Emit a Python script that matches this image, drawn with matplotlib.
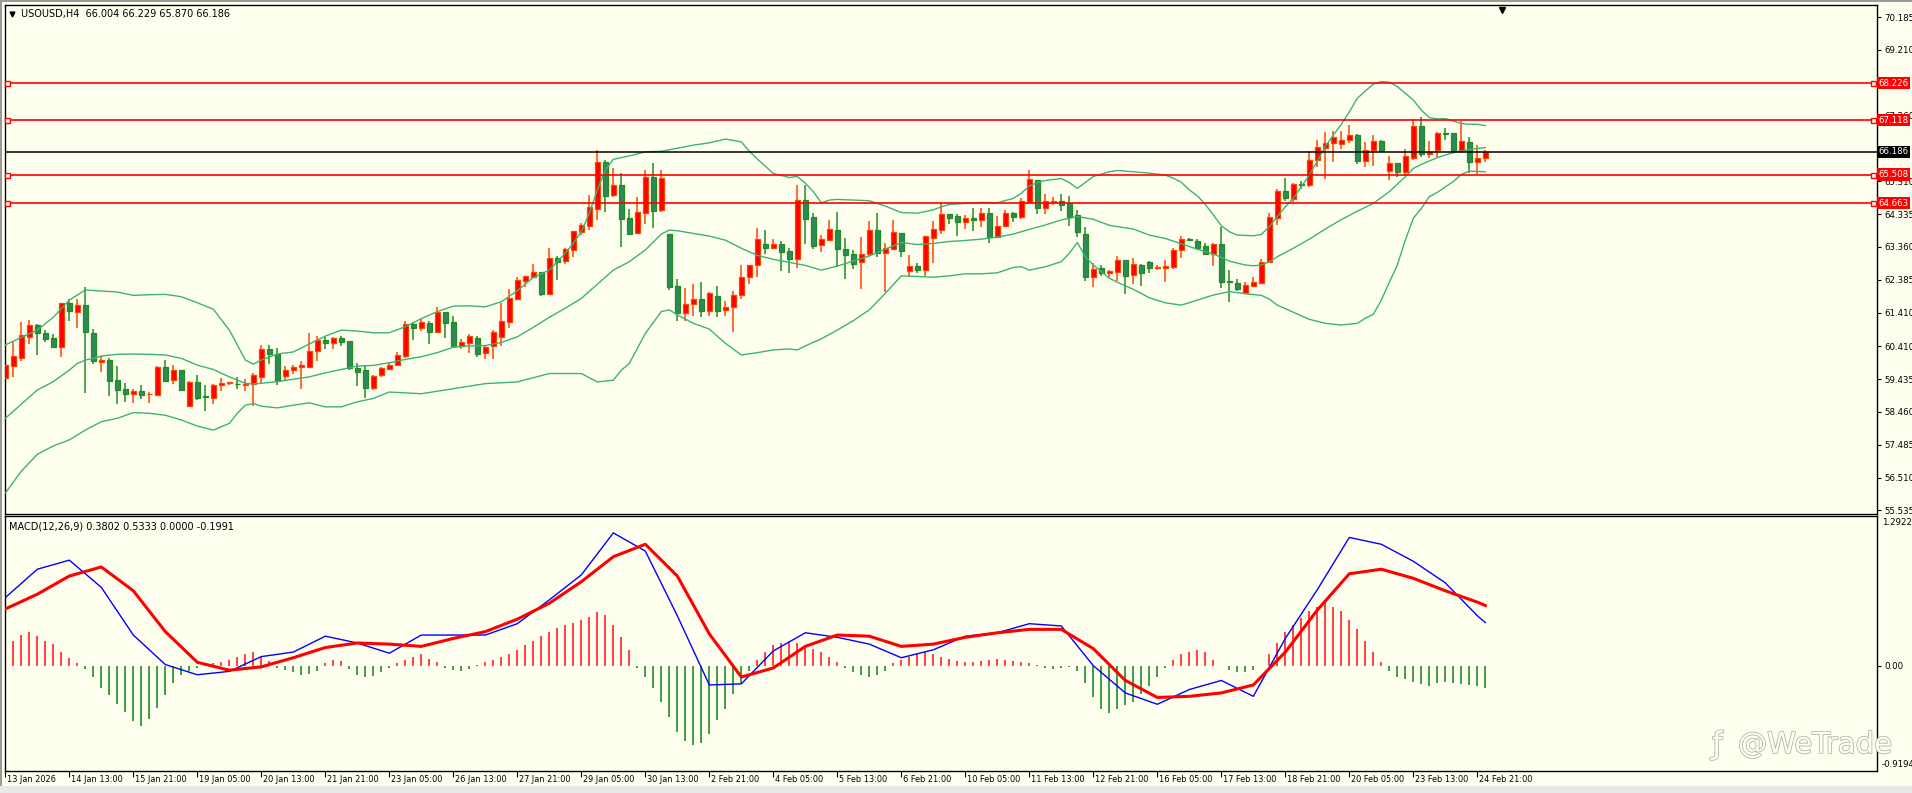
import matplotlib
matplotlib.use('Agg')
import matplotlib.pyplot as plt
import matplotlib.transforms as mtransforms
import matplotlib.patheffects as pe
from matplotlib.patches import Rectangle

# ============================================================
# DATA: USOUSD H4 candles
# ============================================================
opens = [59.47, 59.83, 60.07, 60.67, 61.03, 60.79, 60.64, 60.40, 61.68, 61.42,
         61.62, 60.79, 59.95, 59.99, 59.40, 59.13, 59.00, 59.07, 58.98, 58.97,
         59.79, 59.42, 59.69, 58.65, 59.35, 58.92, 58.88, 59.25, 59.31, 59.30,
         59.27, 59.29, 59.50, 60.33, 60.17, 59.52, 59.69, 59.78, 59.80, 60.26,
         60.61, 60.52, 60.65, 60.56, 59.77, 59.70, 59.18, 59.55, 59.74, 59.84,
         60.12, 61.07, 60.96, 61.10, 60.82, 61.42, 61.12, 60.43, 60.50, 60.65,
         60.20, 60.42, 60.69, 61.14, 61.81, 62.36, 62.48, 62.60, 61.96, 63.02,
         62.95, 63.28, 63.81, 63.99, 64.49, 65.87, 64.91, 65.20, 64.21, 63.77,
         64.38, 65.44, 64.46, 63.74, 62.20, 61.41, 61.65, 61.80, 61.47, 61.90,
         61.48, 61.57, 61.92, 62.46, 62.81, 63.46, 63.34, 63.45, 63.24, 62.99,
         64.75, 64.24, 63.41, 63.57, 63.85, 63.30, 63.14, 62.90, 63.14, 63.85,
         63.19, 63.31, 63.76, 62.63, 62.79, 62.68, 63.63, 63.87, 64.34, 64.28,
         64.11, 64.21, 64.17, 64.37, 63.66, 63.98, 64.37, 64.26, 64.69, 65.35,
         64.50, 64.69, 64.72, 64.65, 64.30, 63.74, 62.48, 62.74, 62.58, 62.62,
         62.97, 62.52, 62.82, 62.90, 62.72, 62.74, 62.76, 63.26, 63.60, 63.53,
         63.38, 63.16, 63.44, 62.34, 62.28, 62.00, 62.21, 62.29, 62.91, 64.23,
         65.01, 64.79, 65.22, 65.19, 65.93, 66.31, 66.45, 66.42, 66.52, 66.68,
         65.91, 66.23, 66.50, 65.61, 65.84, 65.59, 66.01, 66.95, 66.13, 66.25,
         66.74, 66.74, 66.21, 66.46, 65.89, 66.004]
highs = [59.87, 60.54, 61.13, 61.19, 61.06, 60.89, 60.77, 61.70, 61.80, 61.80,
         62.16, 60.91, 60.12, 60.06, 59.82, 59.32, 59.14, 59.26, 59.04, 59.82,
         60.00, 59.85, 59.69, 59.38, 59.55, 59.25, 59.29, 59.46, 59.34, 59.50,
         59.43, 59.63, 60.45, 60.45, 60.36, 59.82, 59.85, 59.97, 60.81, 60.71,
         60.67, 60.67, 60.71, 60.56, 59.90, 59.85, 59.55, 59.78, 59.90, 60.25,
         61.16, 61.13, 61.22, 61.17, 61.57, 61.42, 61.31, 60.63, 60.76, 60.70,
         60.43, 60.90, 61.68, 62.11, 62.48, 62.51, 62.85, 62.60, 63.33, 63.09,
         63.32, 63.83, 64.06, 64.90, 66.24, 65.94, 65.70, 65.55, 64.48, 64.84,
         65.63, 65.85, 65.63, 63.74, 62.41, 62.14, 62.27, 62.32, 62.03, 62.20,
         61.74, 62.05, 62.82, 62.81, 63.91, 63.86, 63.58, 63.52, 63.32, 65.20,
         65.20, 64.36, 63.70, 64.16, 64.40, 63.61, 63.26, 63.64, 64.13, 64.36,
         63.47, 64.16, 63.76, 63.11, 62.87, 63.68, 64.13, 64.68, 64.34, 64.34,
         64.31, 64.51, 64.50, 64.51, 64.28, 64.46, 64.41, 64.81, 65.64, 65.35,
         64.93, 64.85, 64.93, 64.87, 64.46, 63.94, 62.88, 62.83, 62.67, 63.09,
         62.97, 63.04, 62.86, 62.94, 62.81, 62.97, 63.32, 63.69, 63.62, 63.59,
         63.47, 63.47, 63.95, 62.67, 62.41, 62.32, 62.47, 63.00, 64.38, 65.08,
         65.40, 65.26, 65.32, 66.21, 66.53, 66.76, 66.80, 66.80, 66.98, 66.71,
         66.46, 66.68, 66.53, 66.06, 65.84, 66.27, 67.17, 67.22, 66.49, 66.78,
         66.90, 66.74, 67.11, 66.62, 66.40, 66.229]
lows = [59.45, 59.50, 59.98, 60.48, 60.16, 60.55, 60.37, 60.10, 61.17, 60.96,
        59.03, 59.87, 59.65, 58.94, 58.70, 58.76, 58.73, 58.85, 58.73, 58.95,
        59.36, 59.29, 59.12, 58.64, 58.81, 58.50, 58.69, 59.09, 59.26, 59.15,
        59.08, 58.65, 59.31, 59.88, 59.26, 59.41, 59.59, 59.15, 59.80, 59.97,
        60.34, 60.32, 60.43, 59.69, 59.23, 58.88, 59.11, 59.50, 59.70, 59.82,
        60.06, 60.60, 60.87, 60.48, 60.80, 60.65, 60.35, 60.32, 60.22, 60.10,
        60.04, 60.04, 60.42, 60.96, 61.81, 62.17, 62.47, 61.91, 61.93, 62.38,
        62.85, 63.06, 63.71, 63.85, 64.16, 64.40, 64.85, 63.37, 63.70, 63.74,
        64.05, 63.93, 64.40, 62.07, 61.17, 61.17, 61.32, 61.29, 61.32, 61.29,
        61.32, 60.84, 61.80, 62.25, 62.46, 63.15, 63.29, 62.65, 62.59, 62.72,
        63.46, 63.29, 63.22, 63.52, 62.77, 62.42, 62.69, 62.12, 63.08, 63.07,
        62.03, 63.26, 63.07, 62.46, 62.59, 62.51, 62.89, 63.75, 64.04, 63.69,
        63.89, 63.84, 63.96, 63.49, 63.62, 63.95, 64.11, 64.19, 64.63, 64.33,
        64.33, 64.59, 64.44, 63.99, 63.66, 62.36, 62.18, 62.51, 62.46, 62.35,
        61.97, 62.26, 62.21, 62.59, 62.66, 62.33, 62.69, 63.04, 63.55, 63.34,
        63.14, 62.79, 62.13, 61.73, 62.06, 61.97, 62.21, 62.27, 62.90, 64.02,
        64.72, 64.66, 65.08, 65.15, 65.74, 65.39, 65.89, 66.26, 66.43, 65.81,
        65.74, 65.77, 66.17, 65.34, 65.44, 65.45, 65.94, 66.03, 66.01, 66.01,
        66.53, 66.15, 66.16, 65.56, 65.51, 65.870]
closes = [59.85, 60.12, 60.73, 61.03, 60.79, 60.63, 60.40, 61.68, 61.45, 61.62,
          60.84, 59.96, 60.00, 59.39, 59.12, 59.00, 59.07, 58.97, 59.00, 59.79,
          59.39, 59.69, 59.12, 59.36, 58.88, 58.90, 59.26, 59.32, 59.34, 59.28,
          59.30, 59.55, 60.33, 60.18, 59.39, 59.69, 59.79, 59.85, 60.27, 60.59,
          60.52, 60.65, 60.55, 59.77, 59.65, 59.18, 59.52, 59.75, 59.86, 60.14,
          61.07, 60.96, 61.12, 60.84, 61.42, 61.11, 60.43, 60.53, 60.70, 60.19,
          60.39, 60.83, 61.15, 61.83, 62.37, 62.50, 62.60, 61.96, 63.02, 62.92,
          63.29, 63.83, 64.00, 64.53, 65.87, 64.88, 65.20, 64.20, 63.74, 64.40,
          65.44, 64.44, 65.40, 62.18, 61.41, 61.66, 61.80, 61.47, 61.98, 61.47,
          61.57, 61.93, 62.47, 62.81, 63.58, 63.34, 63.44, 63.22, 62.99, 64.75,
          64.20, 63.40, 63.58, 63.88, 63.31, 63.13, 62.86, 63.14, 63.85, 63.19,
          63.32, 63.79, 63.25, 62.79, 62.67, 63.68, 63.88, 64.34, 64.23, 64.11,
          64.21, 64.17, 64.37, 63.66, 63.98, 64.37, 64.24, 64.71, 65.37, 64.50,
          64.71, 64.73, 64.61, 64.25, 63.79, 62.48, 62.70, 62.58, 62.64, 62.97,
          62.51, 62.84, 62.59, 62.72, 62.77, 62.79, 63.27, 63.58, 63.55, 63.34,
          63.16, 63.45, 62.33, 62.31, 62.12, 62.23, 62.31, 62.92, 64.24, 65.01,
          64.81, 65.22, 65.19, 65.93, 66.32, 66.44, 66.62, 66.53, 66.67, 65.91,
          66.23, 66.50, 66.20, 65.84, 65.59, 66.06, 66.95, 66.13, 66.19, 66.73,
          66.70, 66.21, 66.50, 65.89, 65.99, 66.186]

# Bollinger bands (20,2) read at candle positions
upper_i = [0, 4, 6, 8, 10, 12, 14, 16, 18, 20, 22, 24, 26, 28, 29, 30, 31, 32, 34, 36, 38, 40, 42, 44, 46,
           48, 50, 52, 54, 56, 58, 60, 62, 64, 66, 68, 70, 71, 72, 73, 74, 75, 76, 78, 80, 82, 84, 86, 88, 90, 92,
           93, 94, 96, 98, 99, 100, 101, 102, 103, 104, 106, 108, 110, 112, 114, 116, 117, 118, 120, 122, 124, 126,
           127, 128, 129, 130, 132, 133, 134, 135, 136, 138,
           139, 141, 143, 145, 146, 147, 148, 149, 150, 151, 152, 153, 154, 156, 157, 158, 159, 160, 161, 162, 163,
           164, 165, 166, 167, 168, 169, 170, 171, 172, 173, 174, 175, 176, 177, 178, 179, 180, 181, 182, 183, 184, 185]
upper_v = [60.45, 60.89, 61.27, 61.78, 62.08, 62.05, 62.02, 61.92, 61.94, 61.95, 61.88, 61.70, 61.51, 60.89, 60.45,
           60.00, 59.88, 60.00, 60.18, 60.24, 60.48, 60.71, 60.89, 60.86, 60.81,
           60.81, 60.99, 61.23, 61.44, 61.60, 61.61, 61.58, 61.73, 62.06, 62.45, 62.67, 63.17, 63.47, 63.81, 64.36,
           65.05, 65.64, 65.96, 66.06, 66.18, 66.20, 66.29, 66.38, 66.45, 66.56, 66.48,
           66.20, 65.97, 65.54, 65.42, 65.45, 65.25, 65.00, 64.67, 64.75, 64.77, 64.75, 64.73, 64.57, 64.38, 64.36,
           64.46, 64.55, 64.62, 64.65, 64.68, 64.67, 64.80, 64.95, 65.17, 65.27, 65.33, 65.39, 65.27, 65.10, 65.27,
           65.45, 65.59,
           65.63, 65.59, 65.55, 65.49, 65.40, 65.28, 65.05, 64.88, 64.62, 64.31, 63.99, 63.81, 63.71, 63.69, 63.73,
           63.96, 64.26, 64.55, 64.80, 65.15, 65.49, 65.91, 66.34, 66.68, 67.00, 67.37, 67.77, 67.99, 68.19, 68.27,
           68.25, 68.12, 67.92, 67.72, 67.42, 67.20, 67.16, 67.17, 67.10, 67.02, 67.00, 67.00, 66.96]
mid_i = [0, 2, 4, 6, 8, 9, 10, 11, 12, 14, 16, 18, 20, 22, 24, 26, 28, 30, 31, 32, 34, 36, 38, 40, 42, 44, 46,
         47, 48, 50, 52, 54, 56, 58, 60, 62, 64, 66, 68, 70, 72, 74, 76, 78, 80, 82, 83, 84, 86, 88, 90, 92,
         94, 96, 98, 100, 102, 104, 106, 108, 110, 112, 114, 116, 118, 120, 122, 124, 126, 128, 130, 132, 134, 136, 138,
         139, 141, 143, 145, 147, 149, 151, 153, 155, 156, 157, 158, 159, 161, 163, 165, 167, 169, 171, 173, 175,
         176, 177, 179, 181, 183, 185]
mid_v = [58.27, 58.69, 59.11, 59.36, 59.70, 59.90, 60.00, 60.05, 60.12, 60.17, 60.18, 60.17, 60.15, 60.05, 59.85,
         59.72, 59.50, 59.31, 59.29, 59.31, 59.36, 59.43, 59.50, 59.62, 59.72, 59.82, 59.84,
         59.88, 59.92, 60.02, 60.10, 60.22, 60.38, 60.42, 60.43, 60.52, 60.69, 60.97, 61.27, 61.54, 61.83, 62.25,
         62.67, 62.92, 63.27, 63.74, 63.86, 63.84, 63.76, 63.68, 63.56, 63.32,
         63.11, 62.99, 62.90, 62.81, 62.67, 62.79, 62.94, 63.09, 63.29, 63.49, 63.43, 63.46, 63.52, 63.55, 63.59,
         63.65, 63.74, 63.88, 64.01, 64.16, 64.26, 64.18, 64.00,
         63.96, 63.89, 63.71, 63.61, 63.45, 63.29, 63.15, 62.94, 62.82, 62.80, 62.82, 62.92, 63.07, 63.32, 63.59,
         63.89, 64.17, 64.42, 64.65, 65.00, 65.44, 65.69, 65.81, 66.01, 66.16, 66.25, 66.31]
lower_i = [0, 2, 4, 6, 8, 10, 12, 14, 16, 18, 20, 22, 24, 26, 28, 29, 30, 31, 32, 34, 36, 38, 40, 42, 44, 46,
           48, 52, 56, 60, 64, 68, 72, 74, 76, 77, 78, 80, 82, 83, 84, 86, 88, 90, 92,
           94, 96, 98, 99, 100, 102, 104, 106, 108, 110, 112, 114, 116, 118, 120, 122, 124, 126, 127, 128, 130, 132,
           133, 134, 135, 136, 138,
           139, 141, 143, 145, 147, 149, 151, 153, 155, 157, 158, 159, 161, 163, 165, 167, 169, 170, 171, 172, 173,
           174, 175, 176, 177, 178, 179, 181, 182, 183, 185]
lower_v = [56.05, 56.70, 57.20, 57.45, 57.63, 57.92, 58.17, 58.27, 58.44, 58.42, 58.36, 58.22, 58.04, 57.92, 58.12,
           58.42, 58.66, 58.71, 58.63, 58.58, 58.66, 58.73, 58.61, 58.61, 58.76, 58.86,
           59.05, 59.00, 59.15, 59.30, 59.35, 59.60, 59.60, 59.35, 59.40, 59.70, 59.90, 60.79, 61.44, 61.49, 61.34,
           61.09, 60.92, 60.50, 60.15,
           60.22, 60.30, 60.33, 60.30, 60.42, 60.63, 60.89, 61.17, 61.49, 61.98, 62.50, 62.48, 62.46, 62.50, 62.56,
           62.56, 62.59, 62.75, 62.77, 62.67, 62.77, 62.92, 63.17, 63.49, 63.07, 62.82, 62.43,
           62.31, 62.10, 61.85, 61.70, 61.63, 61.78, 61.93, 62.03, 61.97, 61.92, 61.81, 61.63, 61.42, 61.21, 61.09,
           61.04, 61.09, 61.24, 61.36, 61.78, 62.31, 62.82, 63.56, 64.21, 64.50, 64.85, 64.98, 65.30, 65.51, 65.61, 65.59]

# horizontal levels
red_levels = [68.226, 67.118, 65.508, 64.663]
bid_price = 66.186

# MACD(12,26,9): main line (blue), signal (red), histogram per candle
macd_i = list(range(0, 185, 4)) + [185]
macd_main = [0.60, 0.85, 0.93, 0.69, 0.27, 0.01, -0.08, -0.05, 0.08, 0.12, 0.26, 0.20, 0.11, 0.27, 0.27, 0.27,
             0.37, 0.58, 0.80, 1.17, 1.01, 0.44, -0.17, -0.16, 0.13, 0.29, 0.25, 0.19, 0.07, 0.14, 0.26, 0.29,
             0.37, 0.35, 0.00, -0.24, -0.34, -0.21, -0.13, -0.27, 0.24, 0.67, 1.13, 1.07, 0.92, 0.73, 0.44, 0.38]
macd_signal = [0.50, 0.63, 0.79, 0.87, 0.66, 0.30, 0.03, -0.04, -0.01, 0.07, 0.16, 0.20, 0.19, 0.17, 0.24, 0.30,
               0.41, 0.55, 0.74, 0.96, 1.07, 0.79, 0.28, -0.10, -0.02, 0.17, 0.27, 0.26, 0.17, 0.19, 0.25, 0.29,
               0.32, 0.32, 0.15, -0.13, -0.28, -0.27, -0.24, -0.17, 0.12, 0.49, 0.81, 0.85, 0.77, 0.66, 0.56, 0.53]
macd_hist = [0.17, 0.22, 0.27, 0.30, 0.26, 0.22, 0.19, 0.12, 0.07, 0.02,
             -0.03, -0.10, -0.20, -0.26, -0.34, -0.41, -0.49, -0.53, -0.47, -0.37, -0.26, -0.15, -0.08, -0.05, -0.02,
             0.01, 0.02, 0.03, 0.05, 0.08, 0.10, 0.12, 0.08, 0.04, -0.02, -0.04, -0.06, -0.08, -0.07, -0.05,
             0.02, 0.05, 0.04, -0.03, -0.08, -0.10, -0.09, -0.06, -0.02, 0.02, 0.05, 0.08, 0.10, 0.06, 0.03, -0.02,
             -0.04, -0.05, -0.03, 0.01, 0.03, 0.05, 0.08,
             0.10, 0.14, 0.18, 0.22, 0.26, 0.30, 0.33, 0.36, 0.38, 0.40, 0.43, 0.47, 0.45, 0.36, 0.25, 0.14,
             -0.02, -0.10, -0.20, -0.32, -0.45, -0.58, -0.66, -0.70, -0.68, -0.60, -0.48, -0.38, -0.25, -0.15,
             -0.05, 0.05, 0.12, 0.18, 0.20, 0.22, 0.20, 0.18, 0.15, 0.12, 0.08, 0.03, -0.02, -0.06, -0.08, -0.10,
             -0.08, -0.05,
             0.02, 0.05, 0.08, 0.10, 0.12, 0.10, 0.08, 0.06, 0.04, 0.03, 0.03, 0.04, 0.05, 0.06, 0.05, 0.04, 0.03,
             0.02, 0.01, -0.02, -0.03, -0.02, -0.01,
             -0.05, -0.15, -0.28, -0.38, -0.42, -0.38, -0.35, -0.32, -0.25, -0.18, -0.10, -0.02, 0.05, 0.10, 0.12,
             0.14, 0.12,
             0.05, 0.00, -0.04, -0.06, -0.06, -0.04, 0.00, 0.10, 0.20, 0.30,
             0.36, 0.42, 0.48, 0.52, 0.55, 0.52, 0.48, 0.40, 0.32, 0.22, 0.12, 0.03, -0.05, -0.10, -0.12,
             -0.14, -0.16, -0.18, -0.15, -0.14, -0.15, -0.16, -0.17, -0.18, -0.20]

date_labels = ['13 Jan 2026', '14 Jan 13:00', '15 Jan 21:00', '19 Jan 05:00', '20 Jan 13:00', '21 Jan 21:00',
               '23 Jan 05:00', '26 Jan 13:00', '27 Jan 21:00', '29 Jan 05:00', '30 Jan 13:00', '2 Feb 21:00',
               '4 Feb 05:00', '5 Feb 13:00', '6 Feb 21:00', '10 Feb 05:00', '11 Feb 13:00', '12 Feb 21:00',
               '16 Feb 05:00', '17 Feb 13:00', '18 Feb 21:00', '20 Feb 05:00', '23 Feb 13:00', '24 Feb 21:00']
price_ticks = [70.185, 69.210, 67.260, 65.310, 64.335, 63.360, 62.385, 61.410, 60.410, 59.435,
               58.460, 57.485, 56.510, 55.535]

# ============================================================
# STYLE
# ============================================================
BG = '#FFFFF0'
UP_FILL, UP_EDGE = '#FF0000', '#FF4500'
DN_FILL, DN_EDGE = '#2E8B57', '#228B22'
BAND = '#3CB371'
FS = 6.2
plt.rcParams['font.family'] = ['DejaVu Sans']

W, H = 1912, 793
fig = plt.figure(figsize=(W / 100, H / 100), dpi=100)
fig.patch.set_facecolor(BG)


def box(x0, y0, x1, y1):
    # pixel box (top-left origin) -> figure fraction rect
    return [x0 / W, 1 - y1 / H, (x1 - x0) / W, (y1 - y0) / H]


ax = fig.add_axes(box(5, 5, 1877, 514))
ax2 = fig.add_axes(box(5, 516, 1877, 771))
for a in (ax, ax2):
    a.set_facecolor(BG)
    for s in a.spines.values():
        s.set_color('black')
        s.set_linewidth(1)

# candle x = index, 8px per candle
XMIN, XMAX = -0.04, 233.96

# ============================================================
# MAIN PANEL: candles + bands + levels
# ============================================================
n = len(closes)
for i in range(n):
    up = closes[i] >= opens[i]
    fill, edge = (UP_FILL, UP_EDGE) if up else (DN_FILL, DN_EDGE)
    ax.vlines(i, lows[i], highs[i], color=edge, lw=1.1, zorder=2)
    lo, hi = min(opens[i], closes[i]), max(opens[i], closes[i])
    ax.bar(i, max(hi - lo, 0.015), bottom=lo, width=0.62, color=fill, edgecolor=edge,
           linewidth=0.9, zorder=3)

ax.plot(upper_i, upper_v, color=BAND, lw=1, zorder=4)
ax.plot(mid_i, mid_v, color=BAND, lw=1, zorder=4)
ax.plot(lower_i, lower_v, color=BAND, lw=1, zorder=4)

for lv in red_levels:
    ax.axhline(lv, color='#FF0000', lw=1.2, zorder=5)
    ax.plot([0.25, 233.5], [lv, lv], ls='none', marker='s', ms=3.6, mfc=BG, mec='#FF0000',
            mew=1, zorder=6, clip_on=False)
ax.axhline(bid_price, color='black', lw=1.1, zorder=5)

ax.set_xlim(XMIN, XMAX)
ax.set_ylim(55.429, 70.542)
ax.set_xticks([])
ax.yaxis.tick_right()
ax.set_yticks(price_ticks)
ax.set_yticklabels([f'{t:.3f}' for t in price_ticks])
ax.tick_params(axis='y', length=3, width=0.8, pad=2, labelsize=FS, colors='black')

trans = mtransforms.blended_transform_factory(ax.transAxes, ax.transData)
for lv in red_levels:
    ax.text(1.0008, lv, f'{lv:.3f}', transform=trans, ha='left', va='center', fontsize=FS, color='white',
            bbox=dict(facecolor='#FF0000', edgecolor='none', pad=1.2), zorder=10, clip_on=False)
ax.text(1.0008, bid_price, f'{bid_price:.3f}', transform=trans, ha='left', va='center', fontsize=FS,
        color='white', bbox=dict(facecolor='black', edgecolor='none', pad=1.2), zorder=10, clip_on=False)

# header + markers
ax.plot([0.0035], [0.983], marker='v', ms=3.5, color='black', transform=ax.transAxes, clip_on=False)
ax.text(0.0085, 0.983, f'USOUSD,H4  {opens[-1]:.3f} {highs[-1]:.3f} {lows[-1]:.3f} {closes[-1]:.3f}',
        transform=ax.transAxes, ha='left', va='center', fontsize=7, color='black')
ax.plot([1502 / 8 - 0.66], [70.39], marker='v', ms=5, color='black', clip_on=False, zorder=8)

# ============================================================
# MACD PANEL
# ============================================================
hist_x = list(range(len(macd_hist)))
hist_c = ['#FF2020' if v > 0 else '#228B22' for v in macd_hist]
ax2.vlines(hist_x, 0, macd_hist, colors=hist_c, lw=1.2, zorder=2)
ax2.plot(macd_i, macd_main, color='#0000FF', lw=1, zorder=3)
ax2.plot(macd_i, macd_signal, color='#FF0000', lw=2.2, zorder=4)

ax2.set_xlim(XMIN, XMAX)
ax2.set_ylim(-0.928, 1.319)
ax2.yaxis.tick_right()
ax2.set_yticks([0])
ax2.set_yticklabels(['0.00'])
ax2.tick_params(axis='y', length=3, width=0.8, pad=2, labelsize=FS)
t2 = mtransforms.blended_transform_factory(ax2.transAxes, ax2.transAxes)
ax2.text(1.0025, 0.975, '1.2922', transform=t2, ha='left', va='center', fontsize=FS)
ax2.text(1.0025, 0.024, '-0.9194', transform=t2, ha='left', va='center', fontsize=FS)
ax2.text(0.0022, 0.96, 'MACD(12,26,9) 0.3802 0.5333 0.0000 -0.1991', transform=t2,
         ha='left', va='center', fontsize=7)

# date axis: tick every 8 candles, label to the right of tick
tick_pos = [8 * k for k in range(len(date_labels))]
ax2.set_xticks(tick_pos)
ax2.set_xticklabels([])
ax2.tick_params(axis='x', length=4, width=0.8, direction='out')
tx = mtransforms.blended_transform_factory(ax2.transData, ax2.transAxes)
for p, lab in zip(tick_pos, date_labels):
    ax2.text(p + 0.2, -0.035, lab, transform=tx, ha='left', va='center', fontsize=5.9, clip_on=False)

# watermark (outlined letters)
outline = [pe.withStroke(linewidth=1.2, foreground='#b4b4b4')]
fig.text(1712 / W, 1 - 745 / H, 'ƒ', fontsize=22, color=BG, ha='left', va='center', path_effects=outline)
fig.text(1738 / W, 1 - 745 / H, '@WeTrade', fontsize=21, color=BG, ha='left', va='center',
         path_effects=outline)

# window frame strips
fig.add_artist(Rectangle((0, 1 - 2 / H), 1, 2 / H, transform=fig.transFigure, color='#9a9a9a', lw=0))
fig.add_artist(Rectangle((0, 0), 2 / W, 1, transform=fig.transFigure, color='#9a9a9a', lw=0))
fig.add_artist(Rectangle((0, 0), 1, 7 / H, transform=fig.transFigure, color='#e8e8e8', lw=0))

fig.savefig('out.png', dpi=100, facecolor=BG)
